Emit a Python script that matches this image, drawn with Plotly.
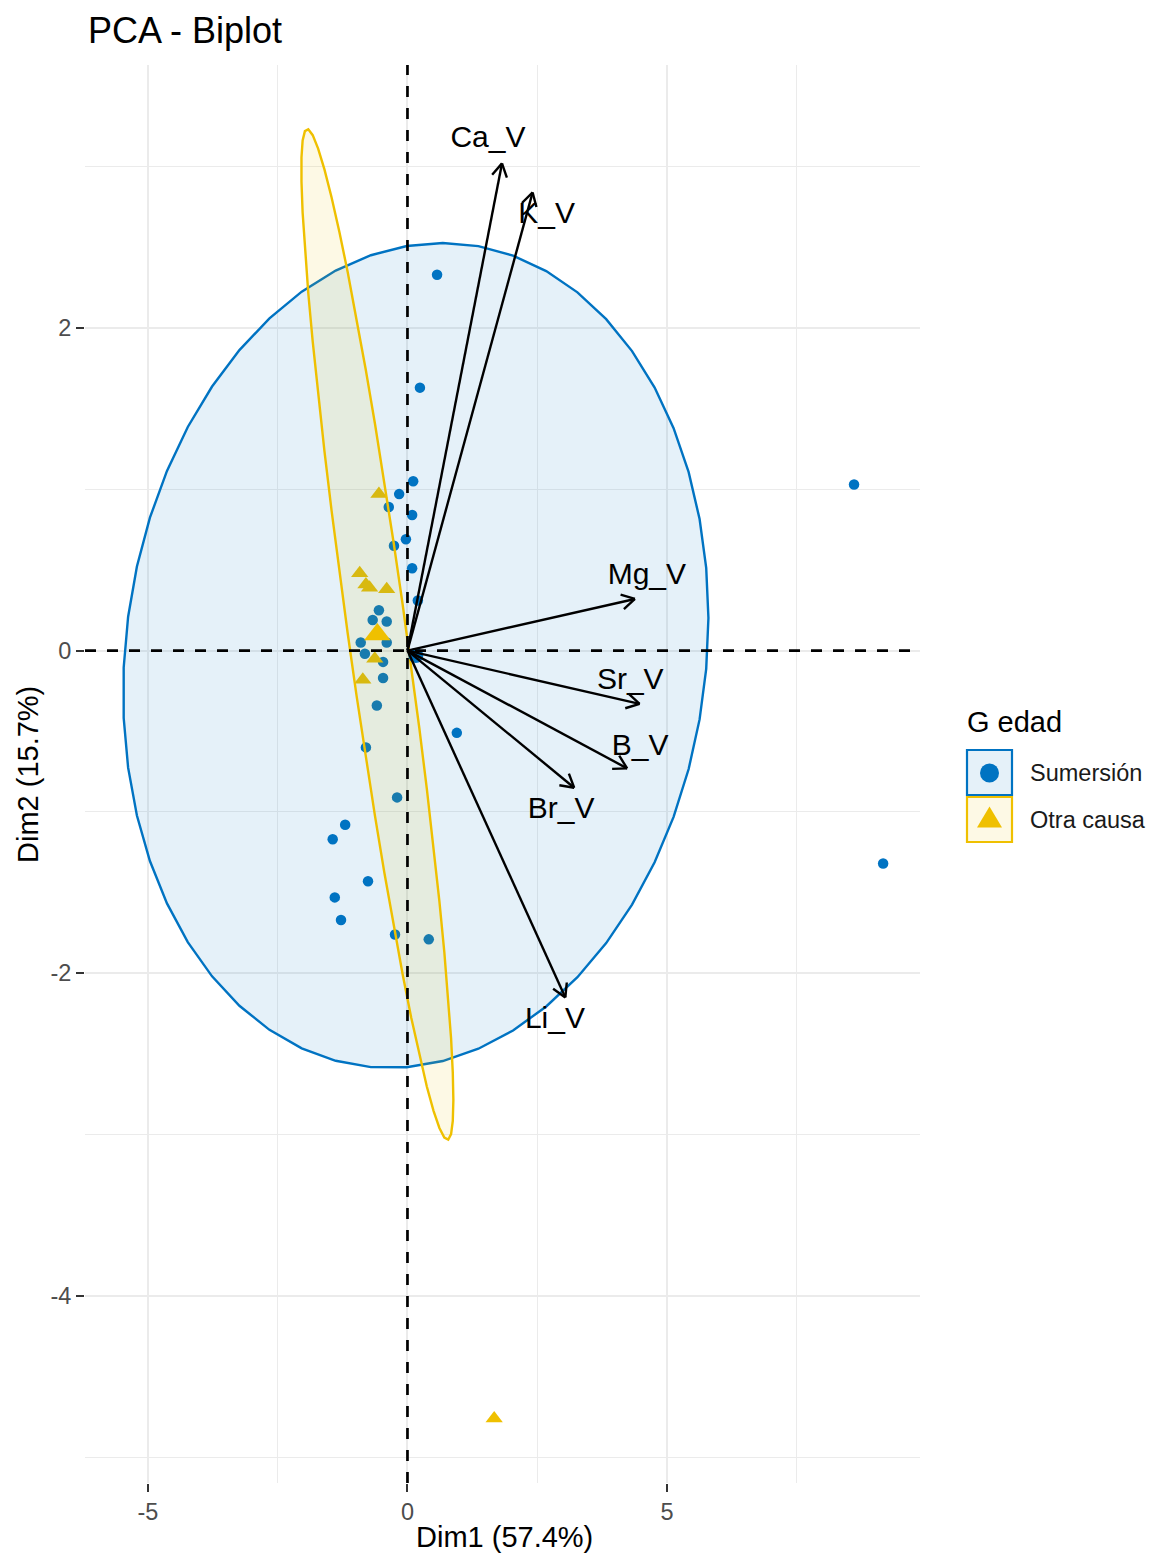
import numpy as np
import plotly.graph_objects as go

# ---------------------------------------------------------------- data
group_names = ["Sumersión", "Otra causa"]
group_colors = ["#0073C2", "#EFC000"]

# individual coordinates (Dim1, Dim2) for each group
sum_x = [0.57, 0.24, 0.11, -0.16, -0.36, 0.09, -0.03, -0.26, 0.09, 0.20,
         -0.55, -0.67, -0.40, -0.90, -0.82, -0.40, -0.47, -0.47, -0.59, 0.95,
         -0.80, -0.20, -1.20, -1.44, -0.76, -1.40, -1.28, -0.24, 0.41,
         8.60, 9.16]
sum_y = [2.33, 1.63, 1.05, 0.97, 0.89, 0.84, 0.69, 0.65, 0.51, 0.31,
         0.25, 0.19, 0.18, 0.05, -0.02, 0.05, -0.07, -0.17, -0.34, -0.51,
         -0.60, -0.91, -1.08, -1.17, -1.43, -1.53, -1.67, -1.76, -1.79,
         1.03, -1.32]

otra_x = [-0.55, -0.92, -0.80, -0.73, -0.40, -0.63, -0.86, 1.67]
otra_y = [0.97, 0.48, 0.41, 0.39, 0.38, -0.05, -0.18, -4.76]

# group mean points (also the ellipse centres)
mean_x = [0.16, -0.58]
mean_y = [-0.03, 0.10]

# concentration ellipse matrices, one per group
ellipse_cov = [
    [[31.76, 1.305], [1.305, 6.538]],
    [[2.143, -4.227], [-4.227, 9.816]],
]

# variable loadings (arrow tips) and their label anchors
var_names = ["Ca_V", "K_V", "Mg_V", "Sr_V", "B_V", "Br_V", "Li_V"]
var_x = [1.82, 2.41, 4.38, 4.47, 4.23, 3.21, 3.04]
var_y = [3.02, 2.84, 0.32, -0.33, -0.73, -0.85, -2.15]
lab_x = [1.55, 2.68, 4.61, 4.29, 4.48, 2.96, 2.84]
lab_y = [3.17, 2.70, 0.46, -0.19, -0.60, -0.99, -2.29]

# axes
x_range = [-6.21, 9.87]
y_range = [-5.16, 3.63]
x_tickvals = [-5, 0, 5]
x_ticktext = ["-5", "0", "5"]
x_minor = [-2.5, 2.5, 7.5]
y_tickvals = [-4, -2, 0, 2]
y_ticktext = ["-4", "-2", "0", "2"]
y_minor = [-5, -3, -1, 1, 3]

title_text = "PCA - Biplot"
x_title = "Dim1 (57.4%)"
y_title = "Dim2 (15.7%)"
legend_title = "G edad"

# ---------------------------------------------------------------- layout geometry
W, H = 1150, 1555
M_L, M_R, M_T, M_B = 85, 230, 65, 72
plot_w = W - M_L - M_R
plot_h = H - M_T - M_B
sx = plot_w / (x_range[1] - x_range[0])   # px per unit, x
sy = plot_h / (y_range[1] - y_range[0])   # px per unit, y

FONT = "Liberation Sans, Arial, Helvetica, sans-serif"


def paper_x(px):
    return (px - M_L) / plot_w


def paper_y(py):
    return (M_T + plot_h - py) / plot_h


def hex_rgba(h, a):
    h = h.lstrip("#")
    r, g, b = int(h[0:2], 16), int(h[2:4], 16), int(h[4:6], 16)
    return f"rgba({r},{g},{b},{a})"


fig = go.Figure()

# ---------------------------------------------------------------- individuals
fig.add_trace(go.Scatter(
    x=sum_x, y=sum_y, mode="markers",
    marker=dict(symbol="circle", size=10.5, color=group_colors[0], line=dict(width=0)),
    showlegend=False, hoverinfo="skip"))
fig.add_trace(go.Scatter(
    x=otra_x, y=otra_y, mode="markers",
    marker=dict(symbol="triangle-up", size=15, color=group_colors[1], line=dict(width=0)),
    showlegend=False, hoverinfo="skip"))

# ---------------------------------------------------------------- concentration ellipses
t = np.linspace(0, 2 * np.pi, 52)
circle = np.vstack([np.cos(t), np.sin(t)])
for cx, cy, cov, col in zip(mean_x, mean_y, ellipse_cov, group_colors):
    L = np.linalg.cholesky(np.array(cov))
    pts = L @ circle
    fig.add_trace(go.Scatter(
        x=cx + pts[0], y=cy + pts[1], mode="lines", fill="toself",
        fillcolor=hex_rgba(col, 0.1), line=dict(color=col, width=2.4),
        showlegend=False, hoverinfo="skip"))

# ---------------------------------------------------------------- group means
fig.add_trace(go.Scatter(
    x=[mean_x[0]], y=[mean_y[0]], mode="markers",
    marker=dict(symbol="circle", size=15, color=group_colors[0], line=dict(width=0)),
    showlegend=False, hoverinfo="skip"))
fig.add_trace(go.Scatter(
    x=[mean_x[1]], y=[mean_y[1]], mode="markers",
    marker=dict(symbol="triangle-up", size=23, color=group_colors[1], line=dict(width=0)),
    showlegend=False, hoverinfo="skip"))

# ---------------------------------------------------------------- reference lines
dash_style = dict(color="black", width=2.7, dash="11px,11px")
fig.add_trace(go.Scatter(x=x_range, y=[0, 0], mode="lines", line=dash_style,
                         showlegend=False, hoverinfo="skip"))
fig.add_trace(go.Scatter(x=[0, 0], y=y_range, mode="lines", line=dash_style,
                         showlegend=False, hoverinfo="skip"))

# ---------------------------------------------------------------- variable arrows
head_len = 15.0
head_ang = np.deg2rad(30)
ax_, ay_ = [], []
for tx, ty in zip(var_x, var_y):
    ax_ += [0, tx, None]
    ay_ += [0, ty, None]
    ux, uy = tx * sx, ty * sy
    n = np.hypot(ux, uy)
    ux, uy = -ux / n, -uy / n
    for s in (1, -1):
        c, si = np.cos(s * head_ang), np.sin(s * head_ang)
        rx, ry = ux * c - uy * si, ux * si + uy * c
        ax_ += [tx + head_len * rx / sx, tx, None]
        ay_ += [ty + head_len * ry / sy, ty, None]
fig.add_trace(go.Scatter(x=ax_, y=ay_, mode="lines",
                         line=dict(color="black", width=2.4),
                         showlegend=False, hoverinfo="skip"))

fig.add_trace(go.Scatter(
    x=lab_x, y=lab_y, mode="text", text=var_names, textposition="middle center",
    textfont=dict(family=FONT, size=30, color="black"),
    showlegend=False, hoverinfo="skip"))

# ---------------------------------------------------------------- axes
grid_col = "#EBEBEB"
fig.update_xaxes(
    range=x_range, tickmode="array", tickvals=x_tickvals, ticktext=x_ticktext,
    showgrid=True, gridcolor=grid_col, gridwidth=1.6, zeroline=False,
    ticks="outside", ticklen=8, tickwidth=2, tickcolor="#333333",
    tickfont=dict(family=FONT, size=23.5, color="#4D4D4D"),
    minor=dict(tickmode="array", tickvals=x_minor, showgrid=True,
               gridcolor=grid_col, gridwidth=1, ticks=""),
    showline=False)
fig.update_yaxes(
    range=y_range, tickmode="array", tickvals=y_tickvals, ticktext=y_ticktext,
    showgrid=True, gridcolor=grid_col, gridwidth=1.6, zeroline=False,
    ticks="outside", ticklen=8, tickwidth=2, tickcolor="#333333",
    tickfont=dict(family=FONT, size=23.5, color="#4D4D4D"),
    minor=dict(tickmode="array", tickvals=y_minor, showgrid=True,
               gridcolor=grid_col, gridwidth=1, ticks=""),
    showline=False)

# ---------------------------------------------------------------- legend (drawn by hand)
shapes = []
annotations = []
box_tops = [750, 797]
for i, (name, col) in enumerate(zip(group_names, group_colors)):
    top = box_tops[i]
    shapes.append(dict(type="rect", xref="paper", yref="paper",
                       x0=paper_x(967), x1=paper_x(1012),
                       y0=paper_y(top), y1=paper_y(top + 45),
                       fillcolor=hex_rgba(col, 0.1), line=dict(color=col, width=2.2),
                       layer="above"))
    annotations.append(dict(xref="paper", yref="paper", x=paper_x(1028),
                            y=paper_y(top + 23), text=name, showarrow=False,
                            xanchor="left", yanchor="middle",
                            font=dict(family=FONT, size=23.5, color="#1A1A1A")))
shapes.append(dict(type="circle", xref="paper", yref="paper",
                   xsizemode="pixel", ysizemode="pixel",
                   xanchor=paper_x(989.5), yanchor=paper_y(773),
                   x0=-9.5, x1=9.5, y0=-9.5, y1=9.5,
                   fillcolor=group_colors[0], line=dict(width=0), layer="above"))
shapes.append(dict(type="path", xref="paper", yref="paper",
                   xsizemode="pixel", ysizemode="pixel",
                   xanchor=paper_x(989.5), yanchor=paper_y(817),
                   path="M -12.5 -10.5 L 12.5 -10.5 L 0 10.5 Z",
                   fillcolor=group_colors[1], line=dict(width=0), layer="above"))
annotations.append(dict(xref="paper", yref="paper", x=paper_x(965), y=paper_y(722),
                        text=legend_title, showarrow=False, xanchor="left",
                        yanchor="middle", font=dict(family=FONT, size=29, color="black")))

# axis titles
annotations.append(dict(xref="paper", yref="paper", x=paper_x(504), y=paper_y(1537),
                        text=x_title, showarrow=False, xanchor="center", yanchor="middle",
                        font=dict(family=FONT, size=29, color="black")))
annotations.append(dict(xref="paper", yref="paper", x=paper_x(28), y=paper_y(775),
                        text=y_title, showarrow=False, xanchor="center", yanchor="middle",
                        textangle=-90, font=dict(family=FONT, size=29, color="black")))

fig.update_layout(
    width=W, height=H,
    margin=dict(l=M_L, r=M_R, t=M_T, b=M_B),
    paper_bgcolor="white", plot_bgcolor="white",
    title=dict(text=title_text, x=(88 - M_L) / plot_w, xref="paper", xanchor="left",
               y=1 - 30 / H, yref="container", yanchor="middle",
               font=dict(family=FONT, size=36, color="black")),
    shapes=shapes, annotations=annotations,
    showlegend=False,
)

fig.write_html("out.html")
